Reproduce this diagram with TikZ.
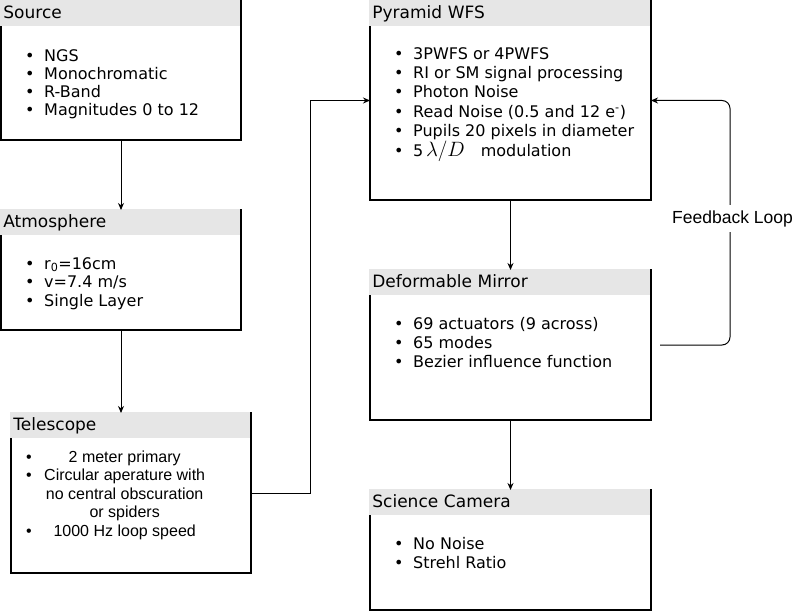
\documentclass[tikz,border=0pt]{standalone}
\usepackage{fontspec}
\setmainfont{DejaVu Sans}
\newfontfamily\arialfont{Liberation Sans}
\usepackage{tikz}
\definecolor{headgray}{RGB}{230, 230, 230}
\usetikzlibrary{arrows.meta, calc}
\newcommand{\bodyfont}[1]{\fontsize{16}{#1}\selectfont}
\newcommand{\topstrut}{\rule{0pt}{14pt}}
\newcommand{\bitem}{\makebox[19pt][l]{\textbullet}}
\newcommand{\titem}[1]{\makebox[14pt][l]{\textbullet}\makebox[169pt][c]{#1}}
\newcommand{\tcont}[1]{\hspace*{14pt}\makebox[169pt][c]{#1}}

\begin{document}
\begin{tikzpicture}[
    x=1pt, y=-1pt,
    block/.style 2 args={draw, line width=1.2pt, inner sep=0pt, outer sep=0pt, minimum width=#1, minimum height=#2, anchor=north west},
    blockhead/.style={fill=headgray, anchor=north west, inner xsep=3pt, inner ysep=0pt, outer sep=0pt, minimum height=25.6pt, text width=#1, text height=13pt, text depth=3pt, align=left, font=\fontsize{17}{20}\selectfont},
    blockbody/.style={anchor=north west, inner sep=0pt, align=left},
    arrow/.style={-{Stealth[length=7pt, width=6pt]}, line width=1pt}
]
    \useasboundingbox (0,0) rectangle (794,612);

    % boxes
    \node[block={240pt}{139pt}] (src) at (1,1) {};
    \node[block={240pt}{120pt}] (atm) at (1,210) {};
    \node[block={240pt}{160pt}] (tel) at (11,413) {};
    \node[block={281pt}{199pt}] (wfs) at (370,1) {};
    \node[block={281pt}{150pt}] (dm) at (370,270) {};
    \node[block={281pt}{120pt}] (cam) at (370,490) {};

    % headers
    \node[blockhead=234pt] (srchead) at ([shift={(-0.6pt,0.6pt)}]src.north west) {Source};
    \node[blockhead=234pt] (atmhead) at ([shift={(-0.6pt,0.6pt)}]atm.north west) {Atmosphere};
    \node[blockhead=234pt] (telhead) at ([shift={(-0.6pt,0.6pt)}]tel.north west) {Telescope};
    \node[blockhead=275pt] (wfshead) at ([shift={(-0.6pt,0.6pt)}]wfs.north west) {Pyramid WFS};
    \node[blockhead=275pt] (dmhead) at ([shift={(-0.6pt,0.6pt)}]dm.north west) {Deformable Mirror};
    \node[blockhead=275pt] (camhead) at ([shift={(-0.6pt,0.6pt)}]cam.north west) {Science Camera};

    % contents
    \node[blockbody, font=\bodyfont{18}] (srctext) at (25,47) {\topstrut\bitem NGS\\\bitem Monochromatic\\\bitem R-Band\\\bitem Magnitudes 0 to 12};
    \node[blockbody, font=\bodyfont{18.5}] (atmtext) at (25,255) {\topstrut\bitem r\textsubscript{0}=16cm\\\bitem v=7.4 m/s\\\bitem Single Layer};
    \node[blockbody, font=\arialfont\fontsize{16}{18.5}\selectfont] (teltext) at (26,448) {\topstrut\titem{2 meter primary}\\\titem{Circular aperature with}\\\tcont{no central obscuration}\\\tcont{or spiders}\\\titem{1000 Hz loop speed}};
    \node[blockbody, font=\bodyfont{19.4}] (wfstext) at (394,45) {\topstrut\bitem 3PWFS or 4PWFS\\\bitem RI or SM signal processing\\\bitem Photon Noise\\\bitem Read Noise (0.5 and 12 e\textsuperscript{-})\\\bitem Pupils 20 pixels in diameter\\\bitem 5\,{\fontsize{20}{20}\selectfont$\lambda/D$}\quad modulation};
    \node[blockbody, font=\bodyfont{19}] (dmtext) at (394,315) {\topstrut\bitem 69 actuators (9 across)\\\bitem 65 modes\\\bitem Bezier influence function};
    \node[blockbody, font=\bodyfont{19}] (camtext) at (394,535) {\topstrut\bitem No Noise\\\bitem Strehl Ratio};

    % connectors
    \draw[arrow] (src.south) -- (atm.north);
    \draw[arrow] (atm.south) -- (atm.south |- tel.north);
    \draw[arrow] (tel.east) -| ($(tel.east)!0.5!(wfs.west)$) |- (wfs.west);
    \draw[arrow] (wfs.south) -- (dm.north);
    \draw[arrow] (dm.south) -- (cam.north);
    \draw[arrow, rounded corners=8pt] ([xshift=9pt]dm.east) -- ++(70,0) |- (wfs.east);
    \node[fill=white, inner xsep=1pt, inner ysep=5pt, anchor=base, font=\arialfont\fontsize{17.5}{20}\selectfont] (fbloop) at (732.5,223) {Feedback Loop};

\end{tikzpicture}
\end{document}
